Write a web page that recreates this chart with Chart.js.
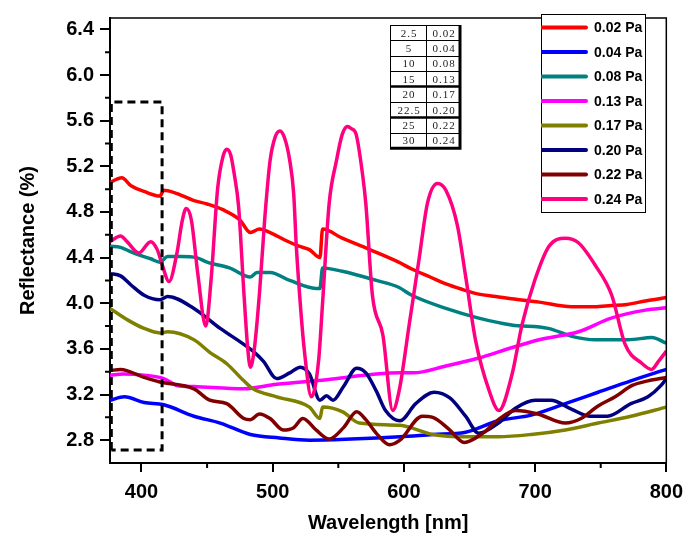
<!DOCTYPE html>
<html>
<head>
<meta charset="utf-8">
<script src="https://cdn.jsdelivr.net/npm/chart.js@4.4.1/dist/chart.umd.min.js"></script>
<style>
  html, body { margin: 0; padding: 0; background: #fff; }
  #wrap { width: 691px; height: 546px; position: relative; }
</style>
</head>
<body>
<div id="wrap"><canvas id="reflChart"></canvas></div>
<script>
// legend / series
const seriesLabels = ['0.02 Pa', '0.04 Pa', '0.08 Pa', '0.13 Pa', '0.17 Pa', '0.20 Pa', '0.22 Pa', '0.24 Pa'];
const seriesColors = ['#ff0000', '#0000ff', '#008080', '#ff00ff', '#808000', '#000080', '#800000', '#ff0080'];

// 0.02 Pa
const wl002 = [376, 385, 392, 402, 414, 417, 425, 440, 450, 462, 475, 483, 490, 498, 510, 520, 528, 536, 538, 553, 574, 596, 606, 620, 632, 645, 657, 670, 682, 703, 728, 745, 758, 770, 784, 800];
const r002 = [5.06, 5.10, 5.03, 4.98, 4.94, 4.99, 4.97, 4.90, 4.87, 4.82, 4.73, 4.62, 4.65, 4.62, 4.55, 4.50, 4.47, 4.40, 4.65, 4.57, 4.47, 4.36, 4.30, 4.23, 4.17, 4.12, 4.08, 4.06, 4.04, 4.01, 3.97, 3.97, 3.98, 3.99, 4.02, 4.05];
// 0.04 Pa
const wl004 = [376, 387, 402, 417, 440, 460, 483, 505, 528, 560, 597, 622, 647, 672, 697, 723, 748, 773, 800];
const r004 = [3.15, 3.18, 3.13, 3.11, 3.01, 2.95, 2.85, 2.82, 2.80, 2.81, 2.83, 2.85, 2.87, 2.97, 3.02, 3.12, 3.22, 3.32, 3.42];
// 0.08 Pa
const wl008 = [376, 384, 392, 399, 407, 414, 420, 430, 442, 450, 467, 483, 488, 498, 513, 533, 536, 538, 553, 579, 596, 606, 632, 657, 682, 710, 728, 746, 771, 789, 800];
const r008 = [4.50, 4.49, 4.45, 4.42, 4.39, 4.36, 4.41, 4.41, 4.40, 4.36, 4.31, 4.23, 4.27, 4.27, 4.20, 4.13, 4.13, 4.31, 4.28, 4.20, 4.14, 4.07, 3.955, 3.87, 3.81, 3.78, 3.71, 3.68, 3.68, 3.70, 3.65];
// 0.13 Pa
const wl013 = [376, 386, 402, 417, 427, 440, 478, 503, 541, 579, 597, 607, 632, 657, 682, 703, 733, 758, 784, 800];
const r013 = [3.37, 3.38, 3.37, 3.34, 3.28, 3.27, 3.25, 3.29, 3.33, 3.38, 3.39, 3.39, 3.45, 3.52, 3.61, 3.68, 3.75, 3.87, 3.94, 3.96];
// 0.17 Pa
const wl017 = [376, 390, 402, 414, 420, 440, 452, 465, 478, 485, 503, 528, 536, 538, 553, 566, 597, 622, 647, 672, 697, 723, 748, 773, 800];
const r017 = [3.955, 3.85, 3.78, 3.74, 3.75, 3.68, 3.57, 3.47, 3.32, 3.25, 3.18, 3.09, 2.99, 3.09, 3.05, 2.95, 2.93, 2.85, 2.83, 2.83, 2.85, 2.89, 2.95, 3.01, 3.09];
// 0.20 Pa
const wl020 = [376, 384, 392, 402, 414, 420, 440, 460, 478, 485, 493, 503, 513, 521, 528, 536, 541, 546, 554, 564, 571, 579, 586, 597, 609, 623, 635, 647, 657, 672, 685, 700, 712, 728, 742, 755, 773, 786, 796, 800];
const r020 = [4.26, 4.24, 4.16, 4.07, 4.03, 4.06, 3.955, 3.78, 3.64, 3.58, 3.49, 3.34, 3.39, 3.44, 3.38, 3.15, 3.19, 3.15, 3.27, 3.43, 3.39, 3.23, 3.06, 2.97, 3.12, 3.22, 3.17, 3.01, 2.86, 2.95, 3.08, 3.15, 3.15, 3.07, 3.01, 3.01, 3.12, 3.18, 3.28, 3.34];
// 0.22 Pa
const wl022 = [376, 384, 402, 414, 440, 452, 465, 478, 483, 490, 498, 508, 516, 523, 533, 543, 554, 564, 571, 579, 589, 597, 614, 622, 634, 646, 660, 672, 685, 702, 723, 735, 748, 761, 774, 786, 800];
const r022 = [3.41, 3.42, 3.35, 3.31, 3.25, 3.15, 3.12, 2.99, 2.98, 3.03, 2.99, 2.89, 2.91, 2.99, 2.89, 2.81, 2.91, 3.05, 2.98, 2.86, 2.76, 2.80, 3.01, 3.00, 2.90, 2.78, 2.86, 2.98, 3.06, 3.03, 2.95, 2.99, 3.10, 3.18, 3.28, 3.32, 3.35];
// 0.24 Pa
const wl024 = [376, 384, 389, 398, 407, 412, 416, 421, 427, 431, 434, 438, 443, 449, 453, 458, 462, 465, 468, 471, 474, 478, 481, 483, 486, 490, 494, 498, 502, 505.5, 509, 513, 516, 518, 521, 524, 529.5, 535, 538, 543, 548.6, 553, 557, 560, 563.6, 568.7, 571, 576, 584, 591.5, 596.5, 604, 611.6, 618, 625.6, 632, 640.8, 647, 654.7, 664.8, 672.4, 682.5, 690, 700, 710.6, 723, 733, 746, 758.4, 768.6, 781.7, 788.8, 794, 800];
const r024 = [4.54, 4.59, 4.54, 4.44, 4.54, 4.47, 4.33, 4.19, 4.44, 4.72, 4.83, 4.73, 4.25, 3.80, 4.20, 5.00, 5.28, 5.35, 5.30, 5.11, 4.85, 4.10, 3.60, 3.44, 3.60, 4.10, 4.75, 5.25, 5.46, 5.51, 5.45, 5.25, 4.96, 4.50, 4.00, 3.60, 3.18, 3.50, 4.00, 4.87, 5.25, 5.48, 5.55, 5.53, 5.48, 5.11, 4.87, 4.07, 3.72, 3.06, 3.24, 3.81, 4.39, 4.88, 5.05, 4.99, 4.68, 4.24, 3.67, 3.24, 3.06, 3.38, 3.81, 4.21, 4.50, 4.57, 4.53, 4.33, 4.07, 3.64, 3.47, 3.42, 3.49, 3.58];

const seriesWl = [wl002, wl004, wl008, wl013, wl017, wl020, wl022, wl024];
const seriesR = [r002, r004, r008, r013, r017, r020, r022, r024];

// dashed box marking the short-wavelength region
const boxWl = [377, 377, 415.7, 415.7, 377];
const boxR = [2.715, 5.764, 5.764, 2.715, 2.715];

// axis ticks
const xMajor = [400, 500, 600, 700, 800];
const xMinor = [450, 550, 650, 750];
const yMajor = [2.8, 3.2, 3.6, 4.0, 4.4, 4.8, 5.2, 5.6, 6.0, 6.4];
const yMinor = [3.0, 3.4, 3.8, 4.2, 4.6, 5.0, 5.4, 5.8, 6.2];

// inset table
const tableRate = ['2.5', '5', '10', '15', '20', '22.5', '25', '30'];
const tablePress = ['0.02', '0.04', '0.08', '0.13', '0.17', '0.20', '0.22', '0.24'];

function toPoints(xs, ys) {
  return xs.map((x, i) => ({ x: x, y: ys[i] }));
}

const datasets = seriesLabels.map((label, i) => ({
  label: label,
  data: toPoints(seriesWl[i], seriesR[i]),
  borderColor: seriesColors[i],
  borderWidth: 3.5,
  pointRadius: 0,
  cubicInterpolationMode: 'monotone',
  order: i === 7 ? 1 : 9 - i
}));
datasets.push({
  label: 'box',
  data: toPoints(boxWl, boxR),
  borderColor: '#000',
  borderWidth: 3,
  borderDash: [8, 5],
  pointRadius: 0,
  tension: 0,
  order: 0
});

const decorPlugin = {
  id: 'decor',
  afterDraw(chart) {
    const ctx = chart.ctx;
    const a = chart.chartArea;
    const xs = chart.scales.x, ys = chart.scales.y;
    ctx.save();
    // frame top + right
    ctx.strokeStyle = '#000';
    ctx.lineWidth = 1.5;
    ctx.beginPath();
    ctx.moveTo(a.left, a.top);
    ctx.lineTo(a.right, a.top);
    ctx.lineTo(a.right, a.bottom);
    ctx.stroke();
    // minor ticks
    ctx.lineWidth = 2;
    ctx.beginPath();
    yMinor.forEach(v => {
      const py = ys.getPixelForValue(v);
      ctx.moveTo(a.left - 5, py);
      ctx.lineTo(a.left, py);
    });
    xMinor.forEach(v => {
      const px = xs.getPixelForValue(v);
      ctx.moveTo(px, a.bottom);
      ctx.lineTo(px, a.bottom + 5);
    });
    ctx.stroke();

    // legend box
    const lx = 541, ly = 14, lw = 104, lh = 198;
    ctx.fillStyle = '#fff';
    ctx.fillRect(lx, ly, lw, lh);
    ctx.lineWidth = 1;
    ctx.strokeRect(lx + 0.5, ly + 0.5, lw, lh);
    ctx.save();
    ctx.beginPath();
    ctx.rect(lx, ly, lw, lh);
    ctx.clip();
    seriesLabels.forEach((label, i) => {
      const yy = 27.5 + i * 24.5;
      ctx.strokeStyle = seriesColors[i];
      ctx.lineWidth = 4;
      ctx.lineCap = 'round';
      ctx.beginPath();
      ctx.moveTo(542, yy);
      ctx.lineTo(586, yy);
      ctx.stroke();
      ctx.fillStyle = '#000';
      ctx.font = 'bold 14px Arial, "Liberation Sans", sans-serif';
      ctx.textBaseline = 'middle';
      ctx.textAlign = 'left';
      ctx.fillText(label, 594, yy + 1);
    });
    ctx.restore();

    // inset table
    const tl = 390, tt = 25, tr = 460, tc = 426, rh = 15.4;
    const tb = tt + rh * tableRate.length;
    ctx.strokeStyle = '#000';
    ctx.lineCap = 'butt';
    ctx.lineWidth = 1;
    ctx.beginPath();
    ctx.moveTo(tl + 0.5, tt); ctx.lineTo(tl + 0.5, tb);
    ctx.moveTo(tl, tt + 0.5); ctx.lineTo(tr, tt + 0.5);
    ctx.moveTo(tc + 0.5, tt); ctx.lineTo(tc + 0.5, tb);
    for (let i = 1; i < tableRate.length; i++) {
      if (i === 4 || i === 6) continue;
      const yy = Math.round(tt + rh * i) + 0.5;
      ctx.moveTo(tl, yy); ctx.lineTo(tr, yy);
    }
    ctx.stroke();
    ctx.lineWidth = 2.5;
    ctx.beginPath();
    [4, 6].forEach(i => {
      const yy = tt + rh * i;
      ctx.moveTo(tl, yy); ctx.lineTo(tr, yy);
    });
    ctx.stroke();
    ctx.lineWidth = 3;
    ctx.beginPath();
    ctx.moveTo(tr, tt); ctx.lineTo(tr, tb);
    ctx.moveTo(tl, tb); ctx.lineTo(tr + 1.5, tb);
    ctx.stroke();
    ctx.fillStyle = '#222';
    ctx.font = '11px "Liberation Serif", "DejaVu Serif", serif';
    ctx.textAlign = 'center';
    ctx.textBaseline = 'middle';
    if ('letterSpacing' in ctx) ctx.letterSpacing = '1px';
    tableRate.forEach((t, i) => {
      const yy = tt + rh * i + rh / 2 + 1;
      ctx.fillText(t, (tl + tc) / 2 + 1, yy);
      ctx.fillText(tablePress[i], (tc + tr) / 2 + 1, yy);
    });
    ctx.restore();
  }
};

const boldFont = { family: 'Arial, "Liberation Sans", sans-serif', size: 20, weight: 'bold' };

new Chart(document.getElementById('reflChart').getContext('2d'), {
  type: 'line',
  data: { datasets: datasets },
  options: {
    responsive: true,
    maintainAspectRatio: false,
    animation: false,
    layout: { padding: { left: 0, right: 23, top: 12, bottom: 0 } },
    plugins: {
      legend: { display: false },
      tooltip: { enabled: false }
    },
    scales: {
      x: {
        type: 'linear',
        min: 376,
        max: 800,
        afterFit: s => { s.height = 83; },
        afterBuildTicks: s => { s.ticks = xMajor.map(v => ({ value: v })); },
        border: { color: '#000', width: 2 },
        grid: { drawOnChartArea: false, color: '#000', lineWidth: 2, tickLength: 9 },
        ticks: { color: '#000', font: boldFont, padding: 8, maxRotation: 0 },
        title: { display: true, text: 'Wavelength [nm]', color: '#000', font: boldFont, padding: { top: 0, bottom: 11 } }
      },
      y: {
        type: 'linear',
        min: 2.6,
        max: 6.5,
        afterFit: s => { s.width = 110; },
        afterBuildTicks: s => { s.ticks = yMajor.map(v => ({ value: v })); },
        border: { color: '#000', width: 2 },
        grid: { drawOnChartArea: false, color: '#000', lineWidth: 2, tickLength: 10 },
        ticks: { color: '#000', font: boldFont, padding: 6, callback: v => Number(v).toFixed(1) },
        title: { display: true, text: 'Reflectance (%)', color: '#000', font: boldFont, padding: { top: 16, bottom: 0 } }
      }
    }
  },
  plugins: [decorPlugin]
});
</script>
</body>
</html>
